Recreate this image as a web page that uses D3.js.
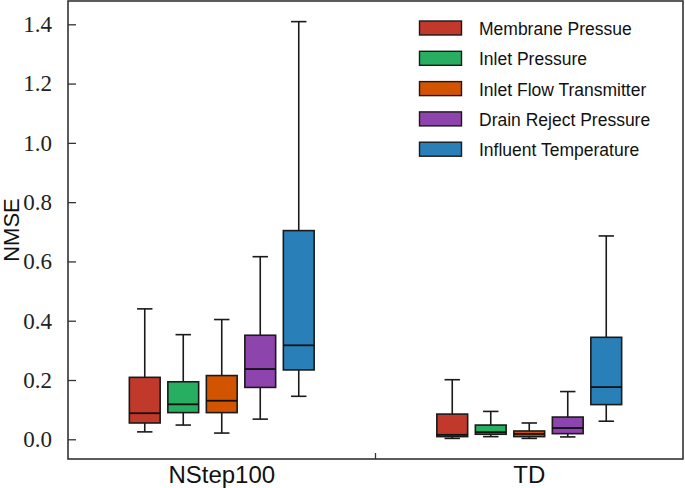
<!DOCTYPE html>
<html>
<head>
<meta charset="utf-8">
<script src="https://cdn.jsdelivr.net/npm/d3@7"></script>
<style>
  html, body { margin: 0; padding: 0; background: #fff; }
  svg { display: block; }
</style>
</head>
<body>
<svg id="chart" width="685" height="488"></svg>
<script>
// ---- data ----
const groups = ["NStep100", "TD"];
const series = ["Membrane Pressue", "Inlet Pressure", "Inlet Flow Transmitter", "Drain Reject Pressure", "Influent Temperature"];
const colors = ["#c0392b", "#27ae60", "#d35400", "#8e44ad", "#2980b9"];
// [whiskerLow, q1, median, q3, whiskerHigh] per series, per group
const statsNStep100 = [
  [0.025, 0.055, 0.088, 0.209, 0.440],
  [0.048, 0.090, 0.118, 0.194, 0.353],
  [0.021, 0.090, 0.130, 0.215, 0.404],
  [0.068, 0.175, 0.237, 0.351, 0.616],
  [0.145, 0.234, 0.317, 0.704, 1.409]
];
const statsTD = [
  [0.003, 0.009, 0.015, 0.085, 0.201],
  [0.009, 0.017, 0.024, 0.048, 0.094],
  [0.003, 0.009, 0.018, 0.028, 0.055],
  [0.008, 0.019, 0.038, 0.075, 0.161],
  [0.061, 0.117, 0.176, 0.344, 0.686]
];
const yTicks = [0.0, 0.2, 0.4, 0.6, 0.8, 1.0, 1.2, 1.4];

const statsByGroup = { "NStep100": statsNStep100, "TD": statsTD };

// ---- layout ----
const L = 68, R = 683, T = 1, B = 459;
const svg = d3.select("#chart");

const y = d3.scaleLinear().domain([-0.0665, 1.4786]).range([B, T]);
const xg = d3.scaleBand().domain(groups).range([L, R]).padding(0);
const gw = xg.bandwidth();
const xs = d3.scaleBand().domain(series).range([gw / 2 - 96.25, gw / 2 + 96.25]).padding(0);
const bw = xs.bandwidth() * 0.8;

const stroke = "#1a1a1a";

// boxes
groups.forEach(g => {
  const st = statsByGroup[g];
  series.forEach((s, i) => {
    const [lo, q1, med, q3, hi] = st[i];
    const cx = xg(g) + xs(s) + xs.bandwidth() / 2;
    const grp = svg.append("g");
    // whiskers
    grp.append("line").attr("x1", cx).attr("x2", cx).attr("y1", y(q3)).attr("y2", y(hi))
      .attr("stroke", stroke).attr("stroke-width", 1.6);
    grp.append("line").attr("x1", cx).attr("x2", cx).attr("y1", y(q1)).attr("y2", y(lo))
      .attr("stroke", stroke).attr("stroke-width", 1.6);
    // caps
    [lo, hi].forEach(v => {
      grp.append("line").attr("x1", cx - bw / 4).attr("x2", cx + bw / 4)
        .attr("y1", y(v)).attr("y2", y(v))
        .attr("stroke", stroke).attr("stroke-width", 1.6);
    });
    // box
    grp.append("rect").attr("x", cx - bw / 2).attr("y", y(q3))
      .attr("width", bw).attr("height", Math.max(0.5, y(q1) - y(q3)))
      .attr("fill", colors[i]).attr("stroke", stroke).attr("stroke-width", 1.6);
    // median
    grp.append("line").attr("x1", cx - bw / 2).attr("x2", cx + bw / 2)
      .attr("y1", y(med)).attr("y2", y(med))
      .attr("stroke", "#111").attr("stroke-width", 1.8);
  });
});

// axes frame
svg.append("rect").attr("x", L).attr("y", T).attr("width", R - L).attr("height", B - T)
  .attr("fill", "none").attr("stroke", "#333").attr("stroke-width", 1.6);

// y axis (ticks inward)
const yAxis = d3.axisLeft(y).tickValues(yTicks).tickFormat(d3.format(".1f"))
  .tickSizeInner(-8).tickSizeOuter(0).tickPadding(16);
const ya = svg.append("g").attr("transform", `translate(${L},0)`).call(yAxis);
ya.select(".domain").remove();
ya.selectAll(".tick line").attr("stroke", "#333").attr("stroke-width", 1.3);
ya.selectAll(".tick text").attr("font-family", "'Liberation Serif', 'Times New Roman', serif")
  .attr("font-size", 23).attr("fill", "#222");

// x separator tick (inward)
svg.append("line").attr("x1", xg("TD")).attr("x2", xg("TD")).attr("y1", B).attr("y2", B - 6)
  .attr("stroke", "#333").attr("stroke-width", 1.3);

// x category labels
groups.forEach(g => {
  svg.append("text").attr("x", xg(g) + gw / 2).attr("y", 483)
    .attr("text-anchor", "middle")
    .attr("font-family", "'Liberation Sans', Arial, sans-serif")
    .attr("font-size", 24).attr("fill", "#111").text(g);
});

// y title
svg.append("text").attr("transform", `translate(19,${(T + B) / 2}) rotate(-90)`)
  .attr("text-anchor", "middle")
  .attr("font-family", "'Liberation Sans', Arial, sans-serif")
  .attr("font-size", 22).attr("fill", "#111").text("NMSE");

// legend
series.forEach((s, i) => {
  const cy = 28 + i * 30.3;
  svg.append("rect").attr("x", 419.5).attr("y", cy - 7).attr("width", 42).attr("height", 14)
    .attr("fill", colors[i]).attr("stroke", stroke).attr("stroke-width", 1.4);
  svg.append("text").attr("x", 479).attr("y", cy + 7)
    .attr("font-family", "'Liberation Sans', Arial, sans-serif")
    .attr("font-size", 17.5).attr("fill", "#111").text(s);
});
</script>
</body>
</html>
